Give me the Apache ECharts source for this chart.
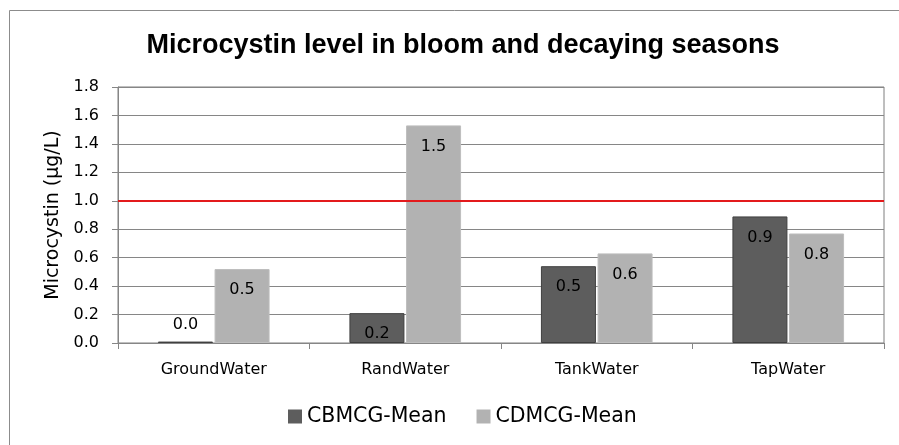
<!DOCTYPE html>
<html>
<head>
<meta charset="utf-8">
<script src="https://cdn.jsdelivr.net/npm/echarts@6/dist/echarts.min.js"></script>
<style>html,body{margin:0;padding:0;background:#fff}#c{width:899px;height:445px}</style>
</head>
<body>
<div id="c"></div>
<script>
var categories = ['GroundWater', 'RandWater', 'TankWater', 'TapWater'];
var cbmcgMean = [0.01, 0.21, 0.54, 0.89];
var cdmcgMean = [0.52, 1.53, 0.63, 0.77];
var seriesNames = ['CBMCG-Mean', 'CDMCG-Mean'];
var yTicks = [0, 0.2, 0.4, 0.6, 0.8, 1.0, 1.2, 1.4, 1.6, 1.8];
var guideline = 1.0;

var labelFont = 'DejaVu Sans';
function mkData(arr) {
  return arr.map(function (v) {
    var d = { value: v };
    if (v < 0.1) d.label = { position: 'top', distance: 9 };
    return d;
  });
}
var chart = echarts.init(document.getElementById('c'), null, { renderer: 'canvas' });
chart.setOption({
  animation: false,
  backgroundColor: '#fff',
  graphic: [{
    type: 'rect', left: 7, top: 8, shape: { width: 900, height: 450 },
    style: { fill: 'none', stroke: '#8c8c8c', lineWidth: 1 }, silent: true, z: -1
  }],
  title: {
    text: 'Microcystin level in bloom and decaying seasons',
    left: 458, top: 27, textAlign: 'center',
    textStyle: { fontFamily: 'Liberation Sans', fontWeight: 'bold', fontSize: 27, color: '#000' }
  },
  legend: {
    data: seriesNames, top: 401, left: 283,
    itemWidth: 14, itemHeight: 14, itemGap: 30,
    icon: 'rect',
    itemStyle: { borderWidth: 0 },
    textStyle: { fontFamily: labelFont, fontSize: 20.5, color: '#000' }
  },
  grid: { left: 118, right: 15, top: 87, bottom: 102, show: true, borderColor: '#7f7f7f', borderWidth: 1 },
  xAxis: {
    type: 'category', data: categories,
    axisLine: { lineStyle: { color: '#868686' } },
    axisTick: { show: true, length: 6, lineStyle: { color: '#868686' } },
    axisLabel: { fontFamily: labelFont, fontSize: 16, color: '#000', margin: 19 }
  },
  yAxis: {
    type: 'value', min: 0, max: 1.8, interval: 0.2,
    name: 'Microcystin (µg/L)', nameLocation: 'middle', nameGap: 55,
    nameTextStyle: { fontFamily: labelFont, fontSize: 19, color: '#000' },
    axisLine: { show: true, lineStyle: { color: '#868686' } },
    axisTick: { show: true, length: 6, lineStyle: { color: '#868686' } },
    axisLabel: { fontFamily: labelFont, fontSize: 16, color: '#000', margin: 19,
      formatter: function (v) { return v.toFixed(1); } },
    splitLine: { lineStyle: { color: '#868686', width: 1 } }
  },
  series: [{
    name: seriesNames[0], type: 'bar', data: mkData(cbmcgMean),
    barWidth: 55, barGap: '3%',
    itemStyle: { color: '#5d5d5d', borderColor: '#404040', borderWidth: 1 },
    label: { show: true, position: 'insideTop', distance: 13, fontFamily: labelFont, fontSize: 16, color: '#000',
      formatter: function (p) { return p.value.toFixed(1); } },
    markLine: {
      silent: true, symbol: 'none', label: { show: false },
      lineStyle: { color: '#e31a1c', width: 2, type: 'solid' },
      data: [{ yAxis: guideline }]
    }
  }, {
    name: seriesNames[1], type: 'bar', data: mkData(cdmcgMean),
    barWidth: 55,
    itemStyle: { color: '#b2b2b2', borderColor: '#bdbdbd', borderWidth: 1 },
    label: { show: true, position: 'insideTop', distance: 13, fontFamily: labelFont, fontSize: 16, color: '#000',
      formatter: function (p) { return p.value.toFixed(1); } }
  }]
});
</script>
</body>
</html>
